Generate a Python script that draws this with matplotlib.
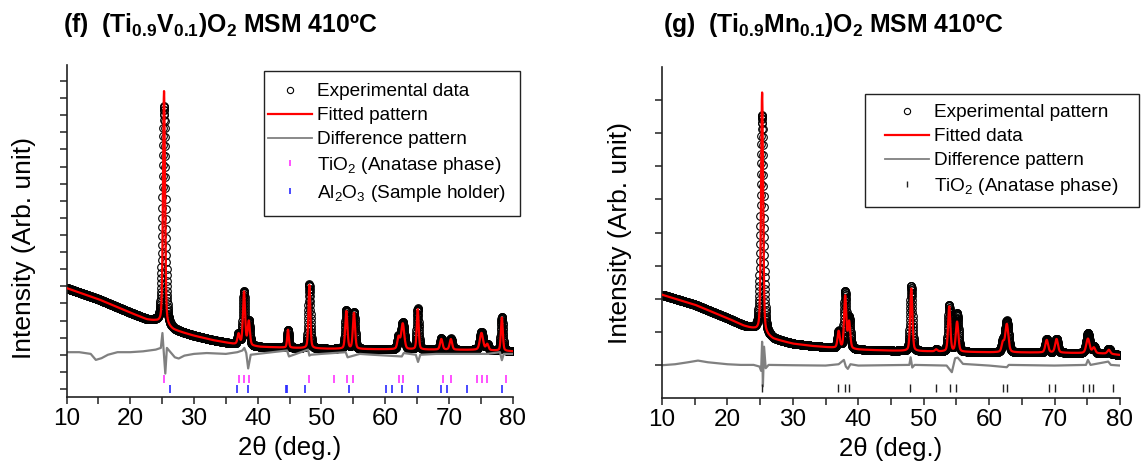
import numpy as np
import matplotlib
matplotlib.use("Agg")
import matplotlib.pyplot as plt
from matplotlib.lines import Line2D
from matplotlib.patches import Rectangle
from matplotlib.ticker import MultipleLocator, NullFormatter

plt.rcParams['font.family'] = ['Liberation Sans', 'DejaVu Sans']
plt.rcParams['mathtext.fontset'] = 'custom'
plt.rcParams['mathtext.rm'] = 'Liberation Sans'
plt.rcParams['mathtext.it'] = 'Liberation Sans:italic'
plt.rcParams['mathtext.bf'] = 'Liberation Sans:bold'

#-----------Data---------------------------------
# (f) (Ti0.9V0.1)O2 -- background anchors (2theta, intensity in tick units)
f_bg_x = [10, 15, 20, 22.6, 24, 26.75, 29.9, 33, 36.2, 40.4, 45.6, 50.8, 58.7, 66.5, 74.4, 80]
f_bg_y = [5.9, 5.25, 4.46, 4.06, 3.95, 3.45, 3.12, 2.85, 2.63, 2.46, 2.4, 2.35, 2.32, 2.3, 2.28, 2.2]
# peak list: position, fitted amplitude, fitted width, observed amplitude, observed width
f_pk_pos = [25.3, 37.0, 37.85, 38.6, 44.75, 48.1, 53.9, 55.1, 62.1, 62.75, 65.1, 68.8, 70.3, 75.1, 76.0, 78.3]
f_pk_amp = [13.7, 0.6, 3.1, 1.4, 1.05, 3.7, 2.2, 2.1, 0.7, 1.5, 2.35, 0.62, 0.62, 1.0, 0.35, 1.95]
f_pk_w = [0.38, 0.4, 0.4, 0.4, 0.3, 0.35, 0.4, 0.4, 0.45, 0.55, 0.35, 0.45, 0.45, 0.6, 0.45, 0.35]
f_obs_amp = [12.8, 0.6, 3.1, 1.4, 1.05, 3.75, 2.25, 2.15, 0.7, 1.55, 2.4, 0.65, 0.65, 1.05, 0.35, 2.0]
f_obs_w = [0.55, 0.4, 0.45, 0.4, 0.32, 0.38, 0.42, 0.42, 0.45, 0.6, 0.38, 0.45, 0.45, 0.6, 0.45, 0.38]
f_diff = [(10, 2.15), (12, 2.15), (13.8, 2.05), (14.6, 1.7), (15.5, 1.8), (16.5, 2.0), (18, 2.15),
          (20, 2.15), (22, 2.2), (24, 2.3), (24.8, 2.4), (25.05, 3.27), (25.25, 2.2), (25.5, 0.9),
          (25.75, 2.4), (26.2, 2.2), (27, 1.85), (27.6, 1.78), (28.5, 1.95), (30, 2.05), (32, 2.1),
          (35, 2.05), (36.8, 2.15), (37.6, 2.25), (37.9, 2.4), (38.2, 2.1), (38.5, 1.2), (38.9, 2.0),
          (40, 2.05), (44.6, 2.25), (44.9, 1.9), (47.9, 2.3), (48.1, 1.95), (48.35, 2.0), (50, 2.05),
          (53.8, 2.15), (54.1, 1.85), (56, 2.05), (58, 2.0), (62.6, 1.9), (62.9, 2.1), (64.8, 2.0),
          (65.15, 1.58), (65.5, 2.0), (68, 2.05), (72, 2.05), (76, 2.05), (78.0, 2.15), (78.3, 1.68),
          (78.6, 2.05), (80, 2.05)]
f_anatase = [25.3, 37.0, 37.9, 38.6, 48.05, 52.0, 54.0, 55.0, 62.1, 62.8, 69.0, 70.3, 74.35, 75.2, 76.0, 78.9]
f_al2o3 = [26.3, 36.7, 38.5, 44.4, 44.6, 47.4, 54.35, 60.2, 61.0, 62.6, 65.2, 68.7, 69.7, 72.9, 78.3]

# (g) (Ti0.9Mn0.1)O2
g_bg_x = [10, 15, 20, 22.5, 24, 27, 30, 33, 36, 40, 45, 50, 60, 70, 78, 80]
g_bg_y = [3.12, 2.82, 2.41, 2.18, 2.08, 1.78, 1.64, 1.57, 1.52, 1.46, 1.43, 1.41, 1.38, 1.37, 1.34, 1.3]
g_pk_pos = [25.3, 37.0, 38.0, 38.6, 48.1, 51.9, 53.9, 55.1, 62.1, 62.7, 68.8, 70.3, 75.1, 76.0, 78.3]
g_pk_amp = [7.28, 0.5, 1.58, 0.8, 1.89, 0.06, 1.36, 0.9, 0.28, 0.85, 0.38, 0.41, 0.44, 0.17, 0.12]
g_pk_w = [0.38, 0.4, 0.4, 0.4, 0.4, 0.4, 0.4, 0.45, 0.45, 0.55, 0.5, 0.5, 0.6, 0.5, 0.5]
g_obs_amp = [6.6, 0.5, 1.7, 0.9, 1.97, 0.06, 1.4, 1.15, 0.3, 0.95, 0.4, 0.42, 0.6, 0.2, 0.15]
g_obs_w = [0.55, 0.4, 0.45, 0.45, 0.42, 0.4, 0.42, 0.5, 0.45, 0.6, 0.5, 0.5, 0.6, 0.5, 0.5]
g_diff = [(10, 0.99), (12, 1.02), (14, 1.08), (15.5, 1.13), (17, 1.08), (20, 1.02), (22, 1.0),
          (24, 1.0), (24.9, 0.95), (25.15, 0.82), (25.3, 1.7), (25.42, 0.35), (25.6, 1.55),
          (25.85, 0.9), (26.3, 1.0), (30, 0.99), (35, 0.98), (37.0, 1.02), (37.8, 1.15), (38.1, 0.95),
          (38.4, 0.88), (38.8, 1.02), (40, 0.98), (47.8, 1.0), (48.0, 1.23), (48.25, 0.92), (48.6, 1.0),
          (53.5, 0.98), (54.3, 0.78), (54.8, 1.2), (55.2, 1.22), (56, 1.03), (60, 0.98), (62.7, 0.93),
          (63, 1.0), (70, 0.98), (74.8, 1.0), (75.1, 1.15), (75.5, 1.0), (78.2, 1.1), (78.6, 1.0), (80, 0.98)]
g_anatase = [25.3, 36.9, 37.9, 38.6, 47.95, 51.9, 54.0, 54.9, 62.1, 62.8, 69.1, 70.1, 74.4, 75.2, 75.9, 79.0]

TWO_THETA = np.arange(10, 80.001, 0.02)
W, H = 1141.0, 469.0


#-----------Helpers------------
def profile(x, bg_x, bg_y, pos, amp, fwhm, eta=0.35):
    y = np.interp(x, bg_x, bg_y)
    for p, a, w in zip(pos, amp, fwhm):
        d = (x - p) / (w / 2.0)
        y = y + a * (eta / (1 + d ** 2) + (1 - eta) * np.exp(-np.log(2) * d ** 2))
    return y


def px_box(x0, y0, x1, y1):
    # pixel box (top-left origin) -> figure fraction [left, bottom, width, height]
    return [x0 / W, 1 - y1 / H, (x1 - x0) / W, (y1 - y0) / H]


def style_axes(ax, ylim, yticks, ylab_pos):
    ax.set_xlim(10, 80)
    ax.set_ylim(*ylim)
    ax.set_yticks(yticks)
    ax.yaxis.set_major_formatter(NullFormatter())
    ax.xaxis.set_major_locator(MultipleLocator(10))
    ax.xaxis.set_minor_locator(MultipleLocator(5))
    for s in ["top", "right"]:
        ax.spines[s].set_visible(False)
    for s in ["left", "bottom"]:
        ax.spines[s].set_linewidth(1.2)
        ax.spines[s].set_color("#222222")
    ax.tick_params(which="both", direction="out", length=5, width=1.1, color="#222222",
                   labelsize=17.5, pad=3)
    ax.set_xlabel("2θ (deg.)", fontsize=18.5, labelpad=4)
    ax.set_ylabel("Intensity (Arb. unit)", fontsize=19)
    ax.yaxis.set_label_coords(*ylab_pos)


def draw_pattern(ax, bg_x, bg_y, pos, amp, w, obs_amp, obs_w, diff):
    calc = profile(TWO_THETA, bg_x, bg_y, pos, amp, w)
    obs = profile(TWO_THETA, bg_x, bg_y, pos, obs_amp, obs_w)
    dx, dy = zip(*diff)
    ax.plot(TWO_THETA, obs, "o", ms=5.5, mfc="none", mec="black", mew=0.8, zorder=2)
    ax.plot(TWO_THETA, calc, "-", color="#ff0000", lw=1.6, zorder=3)
    ax.plot(dx, dy, "-", color="#808080", lw=1.6, zorder=2)


def legend_box(fig, handles, labels, box, text_anchor):
    fig.add_artist(Rectangle((box[0] / W, 1 - box[3] / H), (box[2] - box[0]) / W,
                             (box[3] - box[1]) / H, transform=fig.transFigure,
                             fc="white", ec="#222222", lw=1.0, zorder=4))
    fig.legend(handles, labels, loc="upper left",
               bbox_to_anchor=(text_anchor[0] / W, 1 - text_anchor[1] / H),
               bbox_transform=fig.transFigure, borderaxespad=0, borderpad=0,
               fontsize=13.7, frameon=False, handlelength=2.3, handletextpad=0.27,
               labelspacing=0.35, numpoints=1)


fig = plt.figure(figsize=(11.41, 4.69), dpi=100)

#-----------(f)------------
ax1 = fig.add_axes(px_box(66.5, 65, 512.7, 397))
draw_pattern(ax1, f_bg_x, f_bg_y, f_pk_pos, f_pk_amp, f_pk_w, f_obs_amp, f_obs_w, f_diff)
ax1.plot(f_anatase, [0.61] * len(f_anatase), "|", color="#ff33ff", ms=5.5, mew=1.2)
ax1.plot(f_al2o3, [0.0] * len(f_al2o3), "|", color="#2a2aff", ms=5.5, mew=1.2)
style_axes(ax1, (-0.47, 18.94), np.arange(0, 19, 1), (-0.068, 0.45))

h1 = [Line2D([], [], ls="none", marker="o", ms=4.5, mfc="none", mec="black", mew=0.8),
      Line2D([], [], color="#ff0000", lw=1.6),
      Line2D([], [], color="#808080", lw=1.3),
      Line2D([], [], ls="none", marker="|", ms=5, mew=1.2, color="#ff33ff"),
      Line2D([], [], ls="none", marker="|", ms=5, mew=1.2, color="#2a2aff")]
l1 = ["Experimental data", "Fitted pattern", "Difference pattern",
      "TiO$_2$ (Anatase phase)", "Al$_2$O$_3$ (Sample holder)"]
legend_box(fig, h1, l1, (263.6, 71, 520, 216), (268, 83))

#-----------(g)------------
ax2 = fig.add_axes(px_box(662, 67, 1120, 398))
draw_pattern(ax2, g_bg_x, g_bg_y, g_pk_pos, g_pk_amp, g_pk_w, g_obs_amp, g_obs_w, g_diff)
ax2.plot(g_anatase, [0.29] * len(g_anatase), "|", color="#222222", ms=5.5, mew=1.0)
style_axes(ax2, (0, 10), np.arange(1, 10, 1), (-0.0655, 0.4985))

h2 = [Line2D([], [], ls="none", marker="o", ms=4.5, mfc="none", mec="black", mew=0.8),
      Line2D([], [], color="#ff0000", lw=1.6),
      Line2D([], [], color="#808080", lw=1.3),
      Line2D([], [], ls="none", marker="|", ms=5, mew=1.0, color="#222222")]
l2 = ["Experimental pattern", "Fitted data", "Difference pattern", "TiO$_2$ (Anatase phase)"]
legend_box(fig, h2, l2, (865, 94, 1139, 207), (885, 104))

#-----------Titles------------
fig.text(63 / W, 1 - 32 / H, r"(f)  (Ti$_{\mathbf{0.9}}$V$_{\mathbf{0.1}}$)O$_{\mathbf{2}}$ MSM 410ºC",
         fontsize=17.8, fontweight="bold", ha="left", va="baseline")
fig.text(663 / W, 1 - 32 / H, r"(g)  (Ti$_{\mathbf{0.9}}$Mn$_{\mathbf{0.1}}$)O$_{\mathbf{2}}$ MSM 410ºC",
         fontsize=17.8, fontweight="bold", ha="left", va="baseline")

fig.savefig("out.png", dpi=100)
